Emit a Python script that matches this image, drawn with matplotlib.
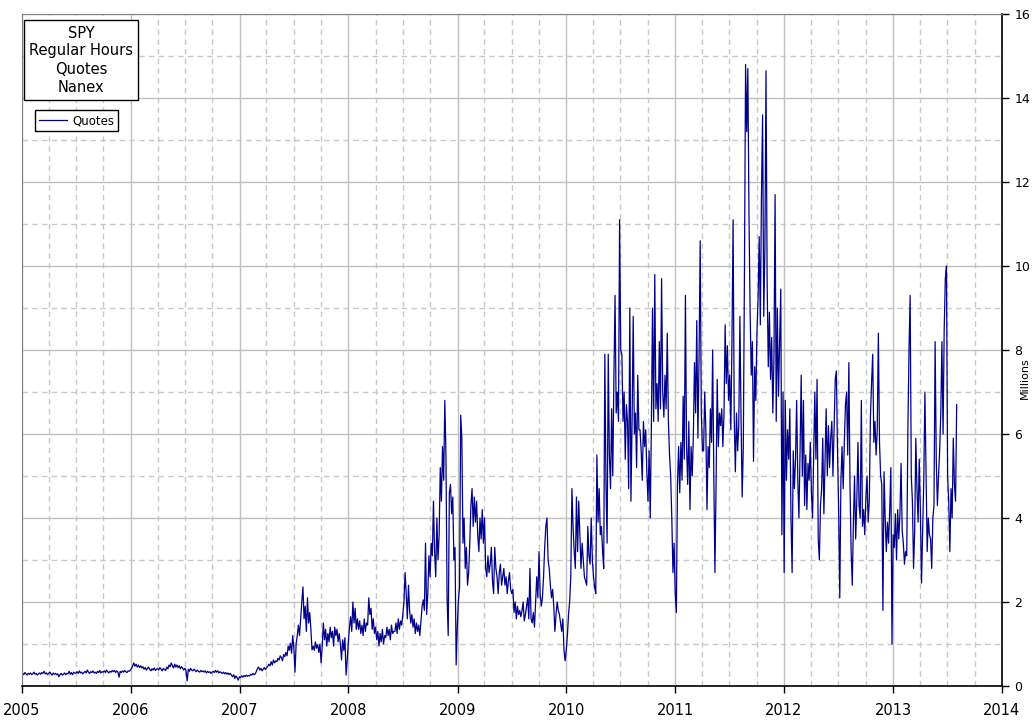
import matplotlib
matplotlib.use("Agg")
import matplotlib.pyplot as plt
import matplotlib.dates as mdates
import numpy as np
import pandas as pd

# Quotes per day (millions), ~2 readings per week, month by month
y2005 = [0.30,0.27,0.32,0.29,0.26,0.30,0.28,0.31,
         0.27,0.29,0.33,0.28,0.30,0.26,0.29,0.31,
         0.28,0.32,0.30,0.35,0.29,0.31,0.27,0.30,
         0.33,0.29,0.26,0.31,0.28,0.30,0.27,0.29,
         0.22,0.27,0.30,0.26,0.28,0.31,0.27,0.30,
         0.29,0.35,0.28,0.32,0.27,0.33,0.30,0.31,
         0.34,0.30,0.36,0.31,0.33,0.29,0.32,0.35,
         0.31,0.38,0.33,0.30,0.34,0.32,0.36,0.31,
         0.33,0.30,0.35,0.32,0.37,0.31,0.34,0.33,
         0.36,0.32,0.38,0.34,0.31,0.35,0.33,0.37,
         0.34,0.37,0.32,0.36,0.33,0.21,0.35,0.32,
         0.36,0.33,0.37,0.34,0.32,0.36,0.35,0.38]
y2006 = [0.42,0.48,0.55,0.47,0.52,0.45,0.50,0.44,
         0.48,0.43,0.46,0.40,0.44,0.38,0.42,0.45,
         0.40,0.36,0.41,0.38,0.43,0.37,0.40,0.42,
         0.38,0.44,0.40,0.36,0.42,0.39,0.37,0.45,
         0.41,0.50,0.46,0.55,0.48,0.43,0.52,0.45,
         0.50,0.44,0.48,0.41,0.46,0.43,0.38,0.42,
         0.36,0.12,0.40,0.35,0.42,0.38,0.36,0.40,
         0.37,0.34,0.38,0.35,0.33,0.37,0.34,0.36,
         0.33,0.36,0.31,0.35,0.32,0.34,0.30,0.33,
         0.35,0.32,0.37,0.33,0.36,0.31,0.34,0.32,
         0.30,0.33,0.29,0.32,0.28,0.31,0.27,0.30,
         0.26,0.22,0.27,0.18,0.24,0.20,0.14,0.22]
y2007 = [0.20,0.24,0.21,0.25,0.22,0.26,0.23,0.25,
         0.24,0.28,0.26,0.30,0.27,0.29,0.35,0.42,
         0.45,0.38,0.42,0.36,0.40,0.44,0.39,0.43,
         0.47,0.52,0.48,0.58,0.50,0.62,0.55,0.60,
         0.58,0.66,0.62,0.72,0.68,0.60,0.75,0.70,
         0.80,0.72,0.95,0.85,1.02,0.78,1.20,0.90,
         0.33,1.00,1.20,1.45,1.20,1.60,2.00,2.36,
         1.60,1.90,1.30,2.10,1.50,1.75,1.35,0.86,
         0.95,0.85,1.05,0.90,0.98,0.80,1.00,0.55,
         0.95,1.50,1.10,1.35,0.95,1.25,1.05,1.40,
         1.15,1.30,0.95,1.40,1.20,1.35,1.05,1.25,
         1.00,0.62,1.10,0.85,1.15,0.26,0.62,1.05]
y2008 = [1.40,1.65,1.30,2.00,1.50,1.85,1.35,1.60,
         1.35,1.55,1.25,1.45,1.20,1.60,1.30,1.50,
         1.45,2.10,1.70,1.85,1.35,1.60,1.25,1.40,
         1.10,1.30,0.95,1.25,1.05,1.35,1.00,1.20,
         1.15,1.40,1.20,1.35,1.10,1.45,1.25,1.30,
         1.30,1.50,1.25,1.60,1.35,1.55,1.45,1.70,
         2.00,2.70,2.20,1.60,2.40,1.80,1.50,1.70,
         1.40,1.60,1.25,1.50,1.30,1.45,1.20,1.55,
         1.90,2.05,1.80,3.40,1.70,2.20,3.10,2.60,
         3.40,3.10,4.40,3.20,2.60,4.00,3.00,3.60,
         5.20,4.40,5.70,4.90,6.80,5.50,2.10,1.20,
         4.60,4.80,4.10,4.50,3.00,3.30,0.50,1.40]
y2009 = [2.05,2.35,6.45,5.90,3.40,4.00,2.80,3.30,
         2.40,2.70,3.40,4.30,4.70,3.80,4.50,3.90,
         4.40,3.60,3.20,4.00,3.50,4.20,3.40,4.00,
         2.80,2.60,3.10,2.70,2.90,3.30,2.50,2.20,
         3.30,2.80,2.60,2.20,2.70,2.90,2.40,2.60,
         2.80,2.40,2.60,2.20,2.50,2.70,2.30,2.20,
         2.30,1.75,2.00,1.60,1.90,1.70,1.80,1.65,
         1.80,2.00,1.55,1.70,1.90,2.10,1.60,2.80,
         1.60,1.50,1.75,1.40,2.00,2.60,2.10,3.20,
         2.20,1.90,2.10,2.60,3.30,3.80,4.00,3.00,
         2.80,2.40,2.10,2.30,1.90,1.30,1.70,2.00,
         1.80,1.70,1.50,1.30,1.60,0.85,0.60,0.85]
y2010 = [1.20,1.70,2.00,2.60,4.70,3.80,3.20,2.80,
         4.50,3.20,4.40,3.60,2.80,3.40,3.00,2.60,
         2.50,2.40,3.80,3.10,2.90,4.00,3.00,2.60,
         2.35,2.20,5.50,3.90,4.70,3.60,3.80,3.20,
         2.80,7.90,4.80,3.40,7.90,5.50,4.70,6.60,
         5.00,7.40,9.30,6.50,7.00,6.30,11.10,8.00,
         7.90,6.30,7.00,5.40,6.70,6.30,4.70,9.00,
         4.40,6.30,8.80,6.00,6.50,5.20,7.40,6.10,
         6.10,5.60,4.90,6.30,5.70,6.10,5.10,4.40,
         5.60,4.00,6.20,9.00,6.30,9.80,6.60,7.20,
         6.30,8.20,6.60,9.70,7.00,6.40,7.40,6.60,
         8.40,6.30,5.50,5.00,4.00,2.70,3.40,2.20]
y2011 = [1.75,4.80,5.70,4.60,5.80,4.90,6.90,5.40,
         9.30,5.70,4.80,6.30,4.20,5.70,5.00,6.00,
         7.70,6.50,8.70,5.90,7.80,10.60,6.50,5.60,
         5.60,7.00,6.10,4.20,5.70,5.20,6.60,5.80,
         8.00,5.00,2.70,4.80,7.30,5.70,6.50,6.20,
         6.60,5.70,6.50,8.60,7.20,8.10,6.80,7.40,
         6.10,8.20,11.10,6.40,5.10,6.50,5.60,6.20,
         8.80,6.40,4.50,5.70,9.80,14.80,13.20,14.70,
         11.20,8.90,7.40,8.20,5.35,7.60,6.80,8.40,
         9.20,10.70,8.60,11.70,13.60,8.80,10.40,14.65,
         9.60,7.60,8.90,7.30,8.30,6.50,7.80,11.70,
         6.30,9.00,6.90,8.20,9.45,3.60,7.00,2.70]
y2012 = [6.80,4.90,6.10,5.40,6.60,4.00,2.70,5.60,
         4.70,5.40,6.80,4.90,4.00,5.60,7.40,5.00,
         6.80,4.30,5.50,4.20,5.30,4.90,5.80,4.60,
         4.00,5.50,7.00,5.40,7.30,3.50,3.00,4.30,
         4.70,5.90,4.10,5.40,6.60,5.00,6.20,5.20,
         5.90,6.30,5.00,6.10,7.30,7.50,5.60,4.20,
         2.10,4.90,5.70,4.70,5.80,6.70,7.00,5.50,
         7.70,4.80,3.20,2.40,3.90,5.00,3.50,4.40,
         5.80,4.30,4.00,6.80,3.80,4.20,3.60,4.50,
         5.00,3.90,4.40,6.40,7.20,7.90,5.80,6.30,
         5.50,6.10,8.40,5.80,5.00,4.80,1.80,5.10,
         4.00,3.20,3.90,3.40,4.20,5.20,1.00,3.60]
y2013 = [3.30,4.10,3.00,4.20,3.50,4.10,5.30,3.70,
         3.40,2.90,3.20,3.10,6.10,8.00,9.30,5.00,
         4.40,2.80,3.70,5.90,4.70,3.90,5.40,4.20,
         2.45,3.70,4.90,7.00,5.10,3.20,4.00,3.60,
         3.50,2.80,4.00,4.30,8.20,5.40,4.30,5.00,
         5.60,6.50,8.20,6.00,8.50,9.70,10.00,5.00,
         4.40,3.20,4.70,4.00,5.90,4.80,4.40,6.70]

quotes = y2005 + y2006 + y2007 + y2008 + y2009 + y2010 + y2011 + y2012 + y2013
start_date = "2005-01-03"
end_date = "2013-08-02"
dates = pd.date_range(start=start_date, end=end_date, periods=len(quotes))

title_lines = ["SPY", "Regular Hours", "Quotes", "Nanex"]
series_name = "Quotes"
y_label = "Millions"
y_ticks = list(range(0, 17, 2))

fig = plt.figure(figsize=(10.32, 7.21), dpi=100)
ax = fig.add_axes([22/1032, 1 - 686/721, 980/1032, 672/721])

ax.plot(dates, quotes, color="#00008b", linewidth=0.9, label=series_name)

ax.set_xlim(pd.Timestamp("2005-01-01"), pd.Timestamp("2014-01-01"))
ax.set_ylim(0, 16)

ax.xaxis.set_major_locator(mdates.YearLocator())
ax.xaxis.set_major_formatter(mdates.DateFormatter("%Y"))
ax.xaxis.set_minor_locator(mdates.MonthLocator(bymonth=[4, 7, 10]))
ax.set_yticks(y_ticks)
ax.set_yticks(np.arange(1, 16, 2), minor=True)

ax.yaxis.tick_right()
ax.yaxis.set_label_position("right")
ax.set_ylabel(y_label, fontsize=8)
ax.yaxis.set_label_coords((1020 - 22) / 980, (686 - 378) / 672)

ax.grid(which="major", color="#c0c0c0", linestyle="-", linewidth=1.0)
ax.grid(which="minor", color="#c8c8c8", linestyle=(0, (4, 3)), linewidth=1.0)
ax.set_axisbelow(True)

ax.tick_params(axis="x", which="major", direction="out", length=5, width=1,
               labelsize=10.5, pad=7, color="black")
ax.tick_params(axis="y", which="major", direction="out", length=5, width=1,
               labelsize=9, pad=4, color="black", right=True, left=False)
ax.tick_params(which="minor", length=0)

for side in ["left", "top"]:
    ax.spines[side].set_color("#808080")
for side in ["right", "bottom"]:
    ax.spines[side].set_color("black")
    ax.spines[side].set_linewidth(1.2)

ax.text((81 - 22) / 980, (686 - 60) / 672, "\n".join(title_lines),
        transform=ax.transAxes, ha="center", va="center", fontsize=10.5,
        linespacing=1.25,
        bbox=dict(boxstyle="square,pad=0.35", facecolor="white",
                  edgecolor="black", linewidth=1.0))

leg = ax.legend(loc="upper left", bbox_to_anchor=(13/980, (686 - 110)/672),
                borderaxespad=0, fancybox=False, framealpha=1, fontsize=8.5,
                handlelength=2.4, handletextpad=0.4, borderpad=0.35)
leg.get_frame().set_edgecolor("black")
leg.get_frame().set_linewidth(1.0)

fig.savefig("out.png", dpi=100)
